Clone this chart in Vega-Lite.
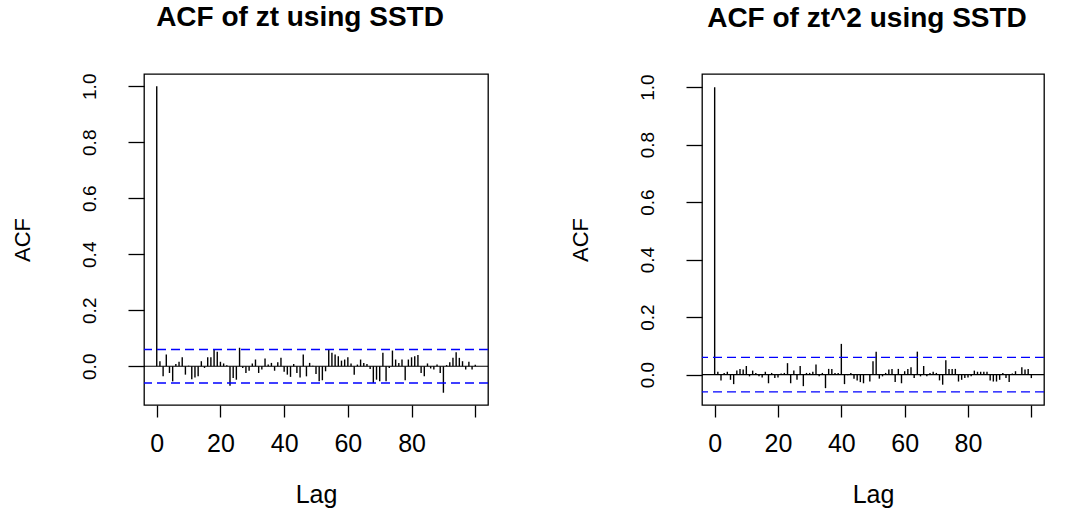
{
  "$schema": "https://vega.github.io/schema/vega-lite/v6.json",
  "background": "white",
  "padding": {"left": 10, "top": 3, "right": 0, "bottom": 0},
  "datasets": {
    "zt": [
      {"lag":0,"acf":1.0},{"lag":1,"acf":0.018},{"lag":2,"acf":-0.036},{"lag":3,"acf":0.042},{"lag":4,"acf":-0.024},
      {"lag":5,"acf":-0.054},{"lag":6,"acf":0.008},{"lag":7,"acf":0.016},{"lag":8,"acf":0.032},{"lag":9,"acf":-0.03},
      {"lag":10,"acf":0.002},{"lag":11,"acf":-0.046},{"lag":12,"acf":-0.04},{"lag":13,"acf":-0.036},{"lag":14,"acf":0.018},
      {"lag":15,"acf":-0.006},{"lag":16,"acf":0.032},{"lag":17,"acf":0.032},{"lag":18,"acf":0.06},{"lag":19,"acf":0.052},
      {"lag":20,"acf":0.016},{"lag":21,"acf":0.01},{"lag":22,"acf":0.004},{"lag":23,"acf":-0.07},{"lag":24,"acf":-0.042},
      {"lag":25,"acf":-0.048},{"lag":26,"acf":0.066},{"lag":27,"acf":-0.006},{"lag":28,"acf":-0.024},{"lag":29,"acf":-0.016},
      {"lag":30,"acf":0.01},{"lag":31,"acf":0.024},{"lag":32,"acf":-0.024},{"lag":33,"acf":-0.012},{"lag":34,"acf":0.028},
      {"lag":35,"acf":0.006},{"lag":36,"acf":0.012},{"lag":37,"acf":-0.016},{"lag":38,"acf":0.014},{"lag":39,"acf":0.03},
      {"lag":40,"acf":-0.02},{"lag":41,"acf":-0.03},{"lag":42,"acf":-0.038},{"lag":43,"acf":0.008},{"lag":44,"acf":-0.024},
      {"lag":45,"acf":-0.04},{"lag":46,"acf":0.042},{"lag":47,"acf":-0.036},{"lag":48,"acf":0.012},{"lag":49,"acf":0.002},
      {"lag":50,"acf":-0.028},{"lag":51,"acf":-0.054},{"lag":52,"acf":-0.05},{"lag":53,"acf":-0.018},{"lag":54,"acf":0.062},
      {"lag":55,"acf":0.048},{"lag":56,"acf":0.042},{"lag":57,"acf":0.036},{"lag":58,"acf":0.02},{"lag":59,"acf":0.024},
      {"lag":60,"acf":0.032},{"lag":61,"acf":0.01},{"lag":62,"acf":-0.03},{"lag":63,"acf":0.006},{"lag":64,"acf":0.024},
      {"lag":65,"acf":0.012},{"lag":66,"acf":0.008},{"lag":67,"acf":-0.01},{"lag":68,"acf":-0.06},{"lag":69,"acf":-0.048},
      {"lag":70,"acf":-0.054},{"lag":71,"acf":0.048},{"lag":72,"acf":-0.054},{"lag":73,"acf":-0.006},{"lag":74,"acf":0.056},
      {"lag":75,"acf":0.024},{"lag":76,"acf":0.012},{"lag":77,"acf":0.024},{"lag":78,"acf":-0.05},{"lag":79,"acf":0.024},
      {"lag":80,"acf":0.032},{"lag":81,"acf":0.036},{"lag":82,"acf":0.04},{"lag":83,"acf":-0.024},{"lag":84,"acf":-0.036},
      {"lag":85,"acf":0.01},{"lag":86,"acf":-0.008},{"lag":87,"acf":-0.012},{"lag":88,"acf":0.006},{"lag":89,"acf":-0.024},
      {"lag":90,"acf":-0.0946},{"lag":91,"acf":0.004},{"lag":92,"acf":0.014},{"lag":93,"acf":0.03},{"lag":94,"acf":0.05},
      {"lag":95,"acf":0.03},{"lag":96,"acf":0.018},{"lag":97,"acf":-0.012},{"lag":98,"acf":0.016},{"lag":99,"acf":-0.012},
      {"lag":100,"acf":0.005}
    ],
    "zt2": [
      {"lag":0,"acf":1.0},{"lag":1,"acf":0.01},{"lag":2,"acf":-0.02},{"lag":3,"acf":0.006},{"lag":4,"acf":0.01},
      {"lag":5,"acf":-0.018},{"lag":6,"acf":-0.033},{"lag":7,"acf":0.014},{"lag":8,"acf":0.02},{"lag":9,"acf":0.018},
      {"lag":10,"acf":0.03},{"lag":11,"acf":-0.006},{"lag":12,"acf":0.014},{"lag":13,"acf":0.006},{"lag":14,"acf":-0.006},
      {"lag":15,"acf":-0.01},{"lag":16,"acf":0.01},{"lag":17,"acf":-0.03},{"lag":18,"acf":0.006},{"lag":19,"acf":-0.012},
      {"lag":20,"acf":-0.01},{"lag":21,"acf":0.004},{"lag":22,"acf":0.006},{"lag":23,"acf":0.04},{"lag":24,"acf":-0.03},
      {"lag":25,"acf":0.014},{"lag":26,"acf":-0.018},{"lag":27,"acf":0.03},{"lag":28,"acf":-0.04},{"lag":29,"acf":0.006},
      {"lag":30,"acf":0.006},{"lag":31,"acf":0.01},{"lag":32,"acf":0.035},{"lag":33,"acf":-0.006},{"lag":34,"acf":0.006},
      {"lag":35,"acf":-0.047},{"lag":36,"acf":0.02},{"lag":37,"acf":0.02},{"lag":38,"acf":0.006},{"lag":39,"acf":0.006},
      {"lag":40,"acf":0.107},{"lag":41,"acf":-0.033},{"lag":42,"acf":-0.002},{"lag":43,"acf":0.006},{"lag":44,"acf":-0.014},
      {"lag":45,"acf":-0.02},{"lag":46,"acf":-0.026},{"lag":47,"acf":-0.03},{"lag":48,"acf":0.002},{"lag":49,"acf":-0.024},
      {"lag":50,"acf":0.047},{"lag":51,"acf":0.08},{"lag":52,"acf":-0.014},{"lag":53,"acf":-0.006},{"lag":54,"acf":0.006},
      {"lag":55,"acf":0.018},{"lag":56,"acf":0.02},{"lag":57,"acf":-0.026},{"lag":58,"acf":0.02},{"lag":59,"acf":-0.03},
      {"lag":60,"acf":0.012},{"lag":61,"acf":0.02},{"lag":62,"acf":0.026},{"lag":63,"acf":-0.012},{"lag":64,"acf":0.08},
      {"lag":65,"acf":-0.006},{"lag":66,"acf":0.03},{"lag":67,"acf":-0.006},{"lag":68,"acf":0.006},{"lag":69,"acf":0.01},
      {"lag":70,"acf":0.006},{"lag":71,"acf":-0.02},{"lag":72,"acf":-0.035},{"lag":73,"acf":0.05},{"lag":74,"acf":0.02},
      {"lag":75,"acf":0.02},{"lag":76,"acf":0.02},{"lag":77,"acf":-0.024},{"lag":78,"acf":-0.018},{"lag":79,"acf":-0.012},
      {"lag":80,"acf":-0.01},{"lag":81,"acf":-0.006},{"lag":82,"acf":0.014},{"lag":83,"acf":0.01},{"lag":84,"acf":0.01},
      {"lag":85,"acf":0.01},{"lag":86,"acf":0.01},{"lag":87,"acf":-0.02},{"lag":88,"acf":-0.024},{"lag":89,"acf":-0.024},
      {"lag":90,"acf":-0.018},{"lag":91,"acf":0.006},{"lag":92,"acf":-0.012},{"lag":93,"acf":-0.026},{"lag":94,"acf":0.004},
      {"lag":95,"acf":0.012},{"lag":96,"acf":0.002},{"lag":97,"acf":0.026},{"lag":98,"acf":0.018},{"lag":99,"acf":0.02},
      {"lag":100,"acf":-0.012}
    ],
    "one": [{}]
  },
  "spacing": 78,
  "hconcat": [
    {
      "width": 344,
      "height": 331,
      "title": {"text": "ACF of zt using SSTD", "frame": "group", "dx": -16},
      "layer": [
        {
          "data": {"name": "zt"},
          "mark": {"type": "rule", "color": "black", "strokeWidth": 1.4},
          "encoding": {
            "x": {"field": "lag", "type": "quantitative", "title": "Lag",
                  "scale": {"domain": [-4, 104], "nice": false, "zero": false},
                  "axis": {"values": [0, 20, 40, 60, 80, 100], "labelExpr": "datum.value == 100 ? '' : datum.label"}},
            "y": {"field": "acf", "type": "quantitative", "title": "ACF",
                  "scale": {"domain": [-0.1384, 1.0438], "nice": false, "zero": false},
                  "axis": {"values": [0, 0.2, 0.4, 0.6, 0.8, 1.0], "format": ".1f"}},
            "y2": {"datum": 0}
          }
        },
        {
          "data": {"name": "one"},
          "mark": {"type": "rule", "color": "black", "strokeWidth": 1.2},
          "encoding": {"y": {"datum": 0}}
        },
        {
          "data": {"name": "one"},
          "mark": {"type": "rule", "stroke": "#0000FF", "strokeWidth": 1.3, "strokeDash": [9, 5]},
          "encoding": {"y": {"datum": 0.0598}}
        },
        {
          "data": {"name": "one"},
          "mark": {"type": "rule", "stroke": "#0000FF", "strokeWidth": 1.3, "strokeDash": [9, 5]},
          "encoding": {"y": {"datum": -0.0598}}
        }
      ]
    },
    {
      "width": 342,
      "height": 331,
      "title": {"text": "ACF of zt^2 using SSTD", "frame": "group", "dx": -6},
      "layer": [
        {
          "data": {"name": "zt2"},
          "mark": {"type": "rule", "color": "black", "strokeWidth": 1.4},
          "encoding": {
            "x": {"field": "lag", "type": "quantitative", "title": "Lag",
                  "scale": {"domain": [-4, 104], "nice": false, "zero": false},
                  "axis": {"values": [0, 20, 40, 60, 80, 100], "labelExpr": "datum.value == 100 ? '' : datum.label"}},
            "y": {"field": "acf", "type": "quantitative", "title": "ACF",
                  "scale": {"domain": [-0.1056, 1.0458], "nice": false, "zero": false},
                  "axis": {"values": [0, 0.2, 0.4, 0.6, 0.8, 1.0], "format": ".1f"}},
            "y2": {"datum": 0}
          }
        },
        {
          "data": {"name": "one"},
          "mark": {"type": "rule", "color": "black", "strokeWidth": 1.2},
          "encoding": {"y": {"datum": 0}}
        },
        {
          "data": {"name": "one"},
          "mark": {"type": "rule", "stroke": "#0000FF", "strokeWidth": 1.3, "strokeDash": [9, 5]},
          "encoding": {"y": {"datum": 0.0598}}
        },
        {
          "data": {"name": "one"},
          "mark": {"type": "rule", "stroke": "#0000FF", "strokeWidth": 1.3, "strokeDash": [9, 5]},
          "encoding": {"y": {"datum": -0.0598}}
        }
      ]
    }
  ],
  "config": {
    "font": "Liberation Sans",
    "view": {"stroke": "black", "strokeWidth": 1.3},
    "title": {"font": "Liberation Sans", "fontSize": 28, "fontWeight": "bold", "color": "black", "anchor": "middle", "baseline": "alphabetic", "offset": 41},
    "axis": {"grid": false, "domain": false, "tickColor": "black", "tickWidth": 1.3, "labelColor": "black", "titleColor": "black", "labelFont": "Liberation Sans", "titleFont": "Liberation Sans", "titleFontWeight": "normal"},
    "axisX": {"tickSize": 12, "labelFontSize": 25, "labelPadding": 14, "titleFontSize": 25, "titlePadding": 26, "labelFlush": false},
    "axisY": {"tickSize": 16, "labelFontSize": 19, "labelAngle": -90, "labelPadding": 29, "titleFontSize": 22, "titlePadding": 46, "labelFlush": false}
  }
}
